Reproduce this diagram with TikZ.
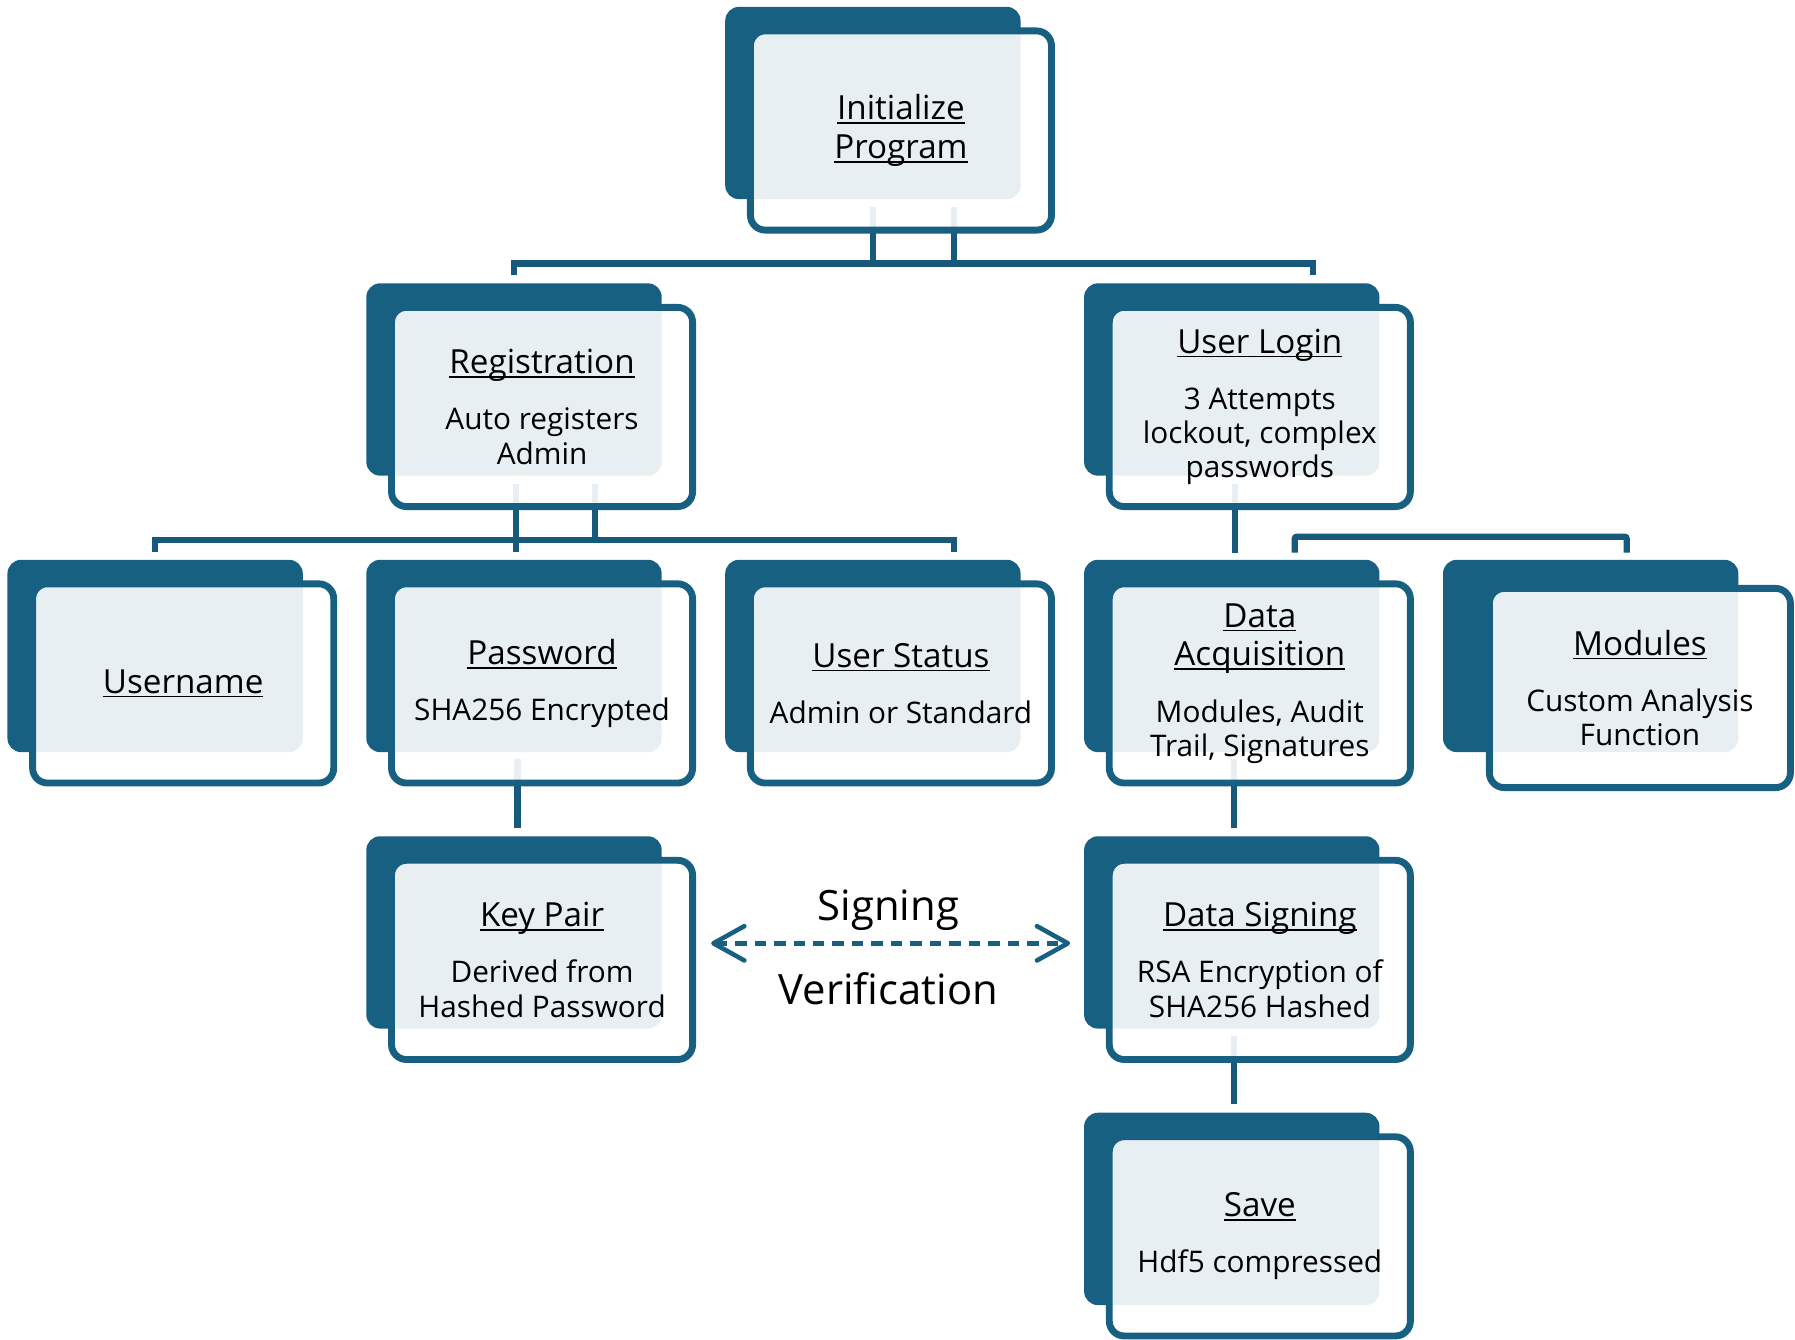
\documentclass[tikz,border=0pt]{standalone}
\usepackage{fontspec}
\setmainfont{Open Sans}
\usetikzlibrary{positioning,calc,arrows.meta}

\definecolor{tealdark}{HTML}{186081}
\definecolor{linkdark}{HTML}{16597A}

\newsavebox\titlebox
\newcommand\boxtitle[1]{{\fontsize{29}{30}\selectfont\sbox\titlebox{#1}\rlap{\rule[-3.6pt]{\wd\titlebox}{1.4pt}}\usebox\titlebox}}
\newcommand\boxtext{\fontsize{26}{30}\selectfont}

\tikzset{
  back/.style={fill=tealdark, rounded corners=12pt, minimum width=258pt, minimum height=168pt, inner sep=0pt},
  front/.style={draw=tealdark, line width=6pt, fill=white, fill opacity=0.9, text opacity=1, rounded corners=13pt,
    minimum width=263pt, minimum height=174pt, inner sep=0pt, align=center, font=\boxtext},
  link/.style={draw=linkdark, line width=5.5pt},
  verify/.style={draw=tealdark, line width=4pt, dash pattern=on 10pt off 7pt,
    {Straight Barb[length=27pt,width=30pt,round]}-{Straight Barb[length=27pt,width=30pt,round]}}
}

\begin{document}
\begin{tikzpicture}[x=1pt, y=-1pt]
		\useasboundingbox (0,0) rectangle (1568,1170.5);
		
		% back panels
		\foreach \nm/\px/\py in {init/762.5/90, reg/449/331.5, login/1076/331.5,
		    user/135.5/573, pass/449/573, status/762.5/573, acq/1076/573, mod/1389.5/573,
		    key/449/814.5, sign/1076/814.5, save/1076/1056}
		  \node[back] (\nm-b) at (\px,\py) {};
		
		% connectors
		\coordinate (bus1) at ($(reg-b.north)+(0,-17)$);
		\coordinate (bus2) at ($(user-b.north)+(0,-17)$);
		\coordinate (initR) at ($(init-b.south)+(71,7)$);
		\coordinate (regR) at ($(reg-b.south)+(71,7)$);
		\draw[link] ($(reg-b.north)+(0,-7)$) |- ($(login-b.north)+(71,-17)$) -- ($(login-b.north)+(71,-7)$);
		\draw[link] ($(init-b.south)+(0,7)$) -- (init-b.south |- bus1);
		\draw[link] (initR) -- (initR |- bus1);
		\draw[link] ($(user-b.north)+(0,-7)$) |- ($(status-b.north)+(71,-17)$) -- ($(status-b.north)+(71,-7)$);
		\draw[link] ($(reg-b.south)+(2,7)$) -- ($(pass-b.north)+(2,-7)$);
		\draw[link] (regR) -- (regR |- bus2);
		\draw[link] ($(login-b.south)+(3,7)$) -- ($(acq-b.north)+(3,-6)$);
		\draw[link, rounded corners=2pt] ($(acq-b.north)+(55,-6)$) -- ++(0,-14) -| ($(mod-b.north)+(31.5,-6)$);
		\draw[link] ($(pass-b.south)+(3,6)$) -- ($(key-b.north)+(3,-7)$);
		\draw[link] ($(acq-b.south)+(2,6)$) -- ($(sign-b.north)+(2,-7)$);
		\draw[link] ($(sign-b.south)+(2,6)$) -- ($(save-b.north)+(2,-7)$);
		
		% front panels
		\node[front] (init) at ($(init-b)+(24.5,24)$) {\boxtitle{Initialize}\\[4pt]\boxtitle{Program}};
		\node[front] (reg) at ($(reg-b)+(24.5,24)$) {\boxtitle{Registration}\\[19pt]\boxtext Auto registers\\\boxtext Admin};
		\node[front] (login) at ($(login-b)+(24.5,24)$) {\boxtitle{User Login}\\[19pt]\boxtext 3 Attempts\\\boxtext lockout, complex\\\boxtext passwords};
		\node[front] (user) at ($(user-b)+(24.5,24)$) {\boxtitle{Username}};
		\node[front] (pass) at ($(pass-b)+(24.5,24)$) {\boxtitle{Password}\\[19pt]\boxtext SHA256 Encrypted};
		\node[front] (status) at ($(status-b)+(24.5,24)$) {\boxtitle{User Status}\\[19pt]\boxtext Admin or Standard};
		\node[front] (acq) at ($(acq-b)+(24.5,24)$) {\boxtitle{Data}\\[4pt]\boxtitle{Acquisition}\\[19pt]\boxtext Modules, Audit\\\boxtext Trail, Signatures};
		\node[front] (mod) at ($(mod-b)+(43,28)$) {\boxtitle{Modules}\\[19pt]\boxtext Custom Analysis\\\boxtext Function};
		\node[front] (key) at ($(key-b)+(24.5,24)$) {\boxtitle{Key Pair}\\[19pt]\boxtext Derived from\\\boxtext Hashed Password};
		\node[front] (sign) at ($(sign-b)+(24.5,24)$) {\boxtitle{Data Signing}\\[19pt]\boxtext RSA Encryption of\\\boxtext SHA256 Hashed};
		\node[front] (save) at ($(save-b)+(24.5,24)$) {\boxtitle{Save}\\[19pt]\boxtext Hdf5 compressed};
		
		% signing / verification
		\coordinate (sv-l) at ($(key-b.east)+(43,9.5)$);
		\coordinate (sv-r) at ($(sign-b.west)+(-12,9.5)$);
		\draw[verify] (sv-l) -- (sv-r);
		\node[font=\fontsize{36.5}{40}\selectfont] (signing) at ($(sv-l)!0.5!(sv-r)+(-2,-29)$) {Signing};
		\node[font=\fontsize{36.5}{40}\selectfont] (verif) at ($(sv-l)!0.5!(sv-r)+(-2,40)$) {Verification};
\end{tikzpicture}
\end{document}
